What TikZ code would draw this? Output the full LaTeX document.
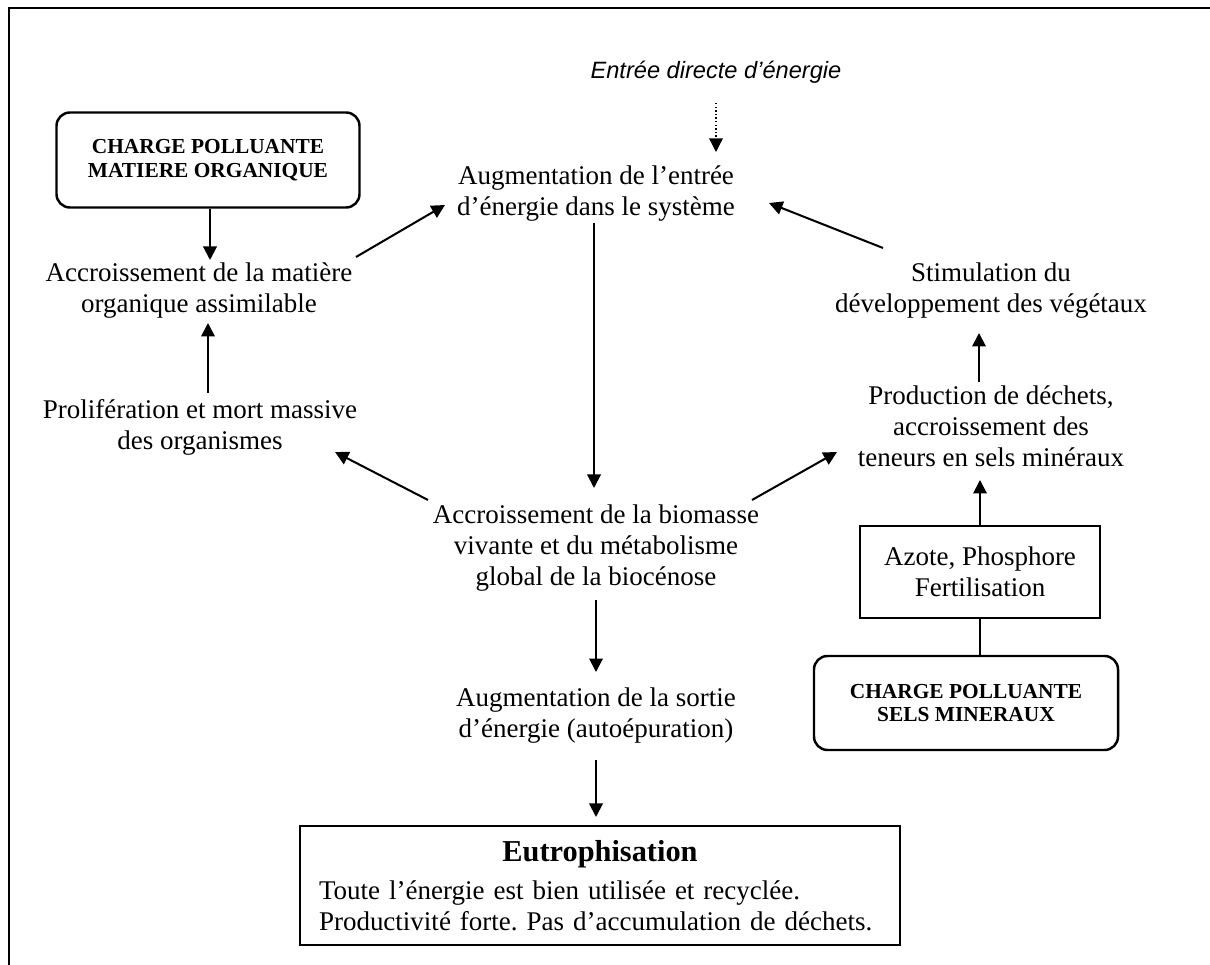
\documentclass[tikz,border=0pt]{standalone}
\usepackage{fontspec}
\setmainfont{Liberation Serif}
\newfontfamily\arialfont{Liberation Sans}
\usetikzlibrary{arrows.meta,positioning,calc}

\def\pxu{0.4445pt}
\frenchspacing

\tikzset{
  txt/.style={align=center, inner sep=3pt, font=\fontsize{12}{13.8}\selectfont},
  charge/.style={draw, line width=1.1pt, rounded corners=6pt, align=center, inner sep=0pt,
                 font=\bfseries\fontsize{9.5}{10.5}\selectfont},
  cadre/.style={draw, line width=0.9pt, align=center, inner sep=0pt, font=\fontsize{12}{13.8}\selectfont},
  fl/.style={->, line width=0.9pt},
}

\begin{document}
\begin{tikzpicture}[x=\pxu, y=-\pxu, >={Triangle[length=6pt,width=6pt]}]
\useasboundingbox (0,0) rectangle (1210,965);
% cadre
\draw[line width=1.1pt] (1210,8) -- (9,8) -- (9,965);

\node[txt, font=\arialfont\itshape\fontsize{10.5}{12}\selectfont] (entree) at (716,72) {Entrée directe d’énergie};
\node[txt] (augm) at (596,194) {Augmentation de l’entrée\\d’énergie dans le système};
\node[charge, minimum width=303*\pxu, minimum height=95*\pxu] (chargeMO) at (208,160) {CHARGE POLLUANTE\\MATIERE ORGANIQUE};
\node[txt] (matiere) at (199,291) {Accroissement de la matière\\organique assimilable};
\node[txt] (prolif) at (200,427) {Prolifération et mort massive\\des organismes};
\node[txt] (biomasse) at (596,548) {Accroissement de la biomasse\\vivante et du métabolisme\\global de la biocénose};
\node[txt] (sortie) at (596,716) {Augmentation de la sortie\\d’énergie (autoépuration)};
\node[txt] (stim) at (991,291) {Stimulation du\\développement des végétaux};
\node[txt] (prod) at (991,426) {Production de déchets,\\accroissement des\\teneurs en sels minéraux};
\node[cadre, minimum width=240*\pxu, minimum height=92*\pxu] (azote) at (980,572) {Azote, Phosphore\\Fertilisation};
\node[charge, minimum width=304*\pxu, minimum height=94*\pxu] (chargeSM) at (966,703) {CHARGE POLLUANTE\\SELS MINERAUX};
\node[cadre, minimum width=600*\pxu, minimum height=119*\pxu, text width=562*\pxu, align=left] (eutro) at (600,885.5)
  {{\centering\bfseries\fontsize{13.5}{16}\selectfont Eutrophisation\par}\vspace{3pt}Toute l’énergie est bien utilisée et recyclée.\\Productivité forte. Pas d’accumulation de déchets.};

% fleches
\draw[fl, line width=0.6pt, densely dotted] ($(entree)+(0,31)$) -- ($(entree)+(0,80)$);
\draw[fl] ($(chargeMO.south)+(2,0)$) -- ($(matiere)+(11,-31)$);
\draw[fl] ($(prolif)+(8,-34)$) -- ($(matiere)+(9,32)$);
\draw[fl] ($(matiere)+(157,-34)$) -- ($(augm)+(-151,11)$);
\draw[fl] ($(stim)+(-108,-43)$) -- ($(augm)+(173,9)$);
\draw[fl] ($(augm)+(-2,29)$) -- ($(biomasse)+(-2,-60)$);
\draw[fl] ($(biomasse)+(-168,-48)$) -- ($(prolif)+(135,25)$);
\draw[fl] ($(biomasse)+(156,-48)$) -- ($(prod)+(-154,26)$);
\draw[fl] ($(prod)+(-12,-44)$) -- ($(stim)+(-12,42)$);
\draw[fl] (azote.north) -- ($(prod)+(-11,54)$);
\draw[line width=0.9pt] (azote.south) -- (azote.south |- chargeSM.north);
\draw[fl] ($(biomasse)+(0,52)$) -- ($(sortie)+(0,-44)$);
\draw[fl] ($(sortie)+(0,44)$) -- ($(sortie |- eutro.north)+(0,-8)$);
\end{tikzpicture}
\end{document}
